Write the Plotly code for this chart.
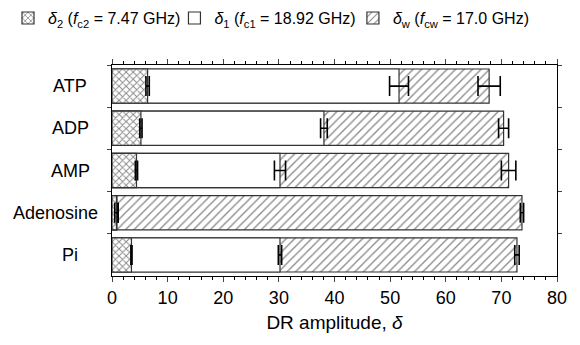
import plotly.graph_objects as go

categories = ["ATP", "ADP", "AMP", "Adenosine", "Pi"]
# cumulative DR amplitudes at each segment end
delta2 = [6.4, 5.2, 4.4, 0.8, 3.5]
delta2_err = [0.3, 0.2, 0.2, 0.3, 0.1]
delta1 = [51.6, 38.1, 30.2, 0.9, 30.2]
delta1_err = [1.7, 0.6, 1.0, 0.2, 0.3]
deltaw = [67.8, 70.4, 71.3, 73.7, 72.8]
deltaw_err = [2.0, 0.9, 1.3, 0.3, 0.4]

names = [
    "<i>δ</i><sub>2</sub> (<i>f</i><sub>c2</sub> = 7.47 GHz)",
    "<i>δ</i><sub>1</sub> (<i>f</i><sub>c1</sub> = 18.92 GHz)",
    "<i>δ</i><sub>w</sub> (<i>f</i><sub>cw</sub> = 17.0 GHz)",
]

fig = go.Figure()

def add(vals, errs, name, shape, size, solidity, legend):
    fig.add_trace(go.Bar(
        y=categories, x=vals, orientation="h", name=name, legend=legend,
        showlegend=True,
        marker=dict(color="white", line=dict(color="#333", width=1.2),
                    pattern=dict(shape=shape, fgcolor="#111", bgcolor="white",
                                 size=size, solidity=solidity, fillmode="overlay")),
        error_x=dict(type="data", array=errs, color="black", thickness=1.6, width=10),
    ))

# draw largest first (back), smaller in front
add(deltaw, deltaw_err, names[2], "/", 6, 0.22, "legend3")
add(delta1, delta1_err, names[1], "", 8, 0.2, "legend2")
add(delta2, delta2_err, names[0], "x", 5, 0.35, "legend")

def leg(x):
    return dict(orientation="h", xref="container", yref="container",
                x=x, y=0.97, xanchor="left", yanchor="middle",
                font=dict(size=16), itemwidth=30, bgcolor="rgba(0,0,0,0)")

# category labels, centred like the reference
for cat in categories:
    wide = len(cat) > 5
    fig.add_annotation(
        text=cat, xref="paper", yref="y", y=cat,
        x=-0.027 if wide else -0.094,
        xanchor="right" if wide else "center",
        showarrow=False, font=dict(size=18),
    )

fig.update_layout(
    width=572, height=337,
    margin=dict(l=104, r=23, t=57, b=69, autoexpand=False),
    barmode="overlay", bargap=0.19, showlegend=True,
    plot_bgcolor="white", paper_bgcolor="white",
    font=dict(family="Liberation Sans, Arial, sans-serif", size=18, color="black"),
    legend=leg(-0.007),
    legend2=leg(0.291),
    legend3=leg(0.603),
    xaxis=dict(range=[0, 80], dtick=10, ticks="outside", ticklen=5, tickwidth=1,
               showline=True, linecolor="black", linewidth=1, mirror="ticks",
               showgrid=False, zeroline=False, automargin=False,
               minor=dict(dtick=2, ticks="outside", ticklen=3, tickcolor="black"),
               title=dict(text="DR amplitude, <i>δ</i>", font=dict(size=19), standoff=9),
               tickfont=dict(size=18)),
    yaxis=dict(autorange="reversed", ticks="outside", ticklen=4, tickson="boundaries",
               showline=True, linecolor="black", linewidth=1, mirror="ticks",
               showgrid=False, showticklabels=False, automargin=False),
)

fig.write_html("out.html")
